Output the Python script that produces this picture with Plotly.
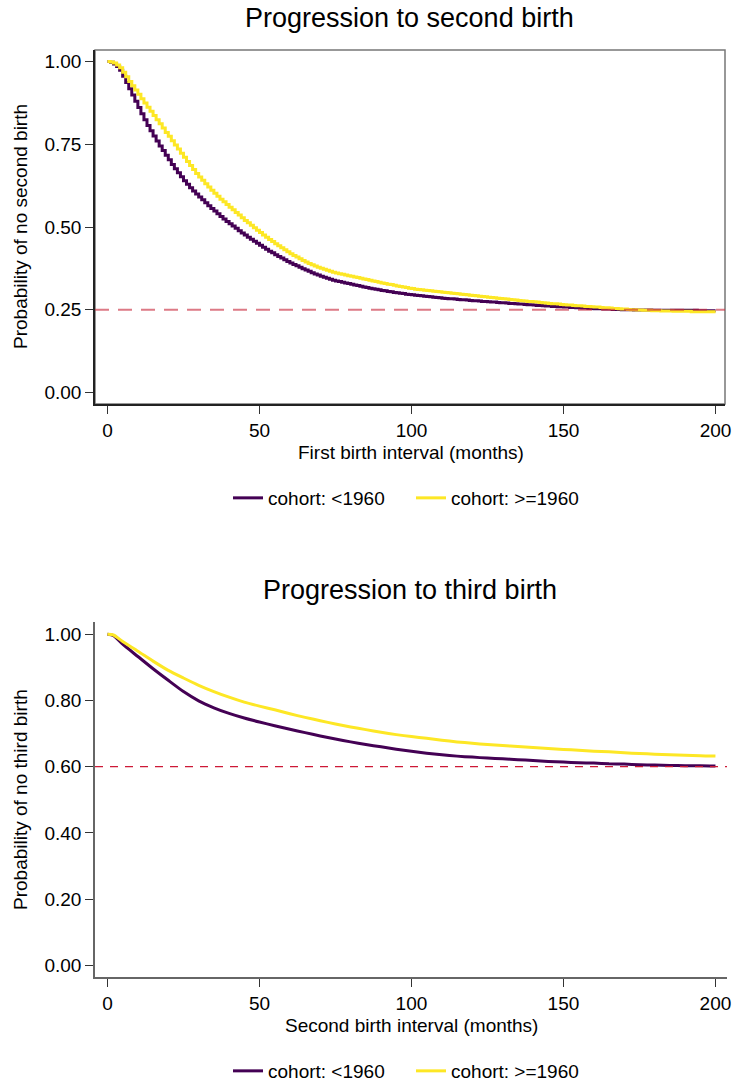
import plotly.graph_objects as go

# ---------------- data ----------------
months_second = list(range(0, 201))
second_pre1960 = [
    1.000, 0.998, 0.993, 0.985, 0.974, 0.956, 0.937, 0.918, 0.899, 0.880,
    0.861, 0.842, 0.824, 0.807, 0.791, 0.775, 0.760, 0.745, 0.731, 0.717,
    0.703, 0.689, 0.676, 0.664, 0.652, 0.640, 0.629, 0.619, 0.609, 0.600,
    0.591, 0.582, 0.573, 0.564, 0.556, 0.548, 0.540, 0.532, 0.524, 0.517,
    0.510, 0.503, 0.496, 0.489, 0.482, 0.476, 0.469, 0.463, 0.457, 0.451,
    0.445, 0.439, 0.433, 0.427, 0.422, 0.416, 0.411, 0.406, 0.401, 0.396,
    0.391, 0.387, 0.383, 0.378, 0.374, 0.370, 0.366, 0.362, 0.358, 0.355,
    0.351, 0.348, 0.345, 0.342, 0.339, 0.337, 0.335, 0.333, 0.331, 0.329,
    0.327, 0.325, 0.323, 0.321, 0.319, 0.317, 0.315, 0.313, 0.312, 0.310,
    0.308, 0.307, 0.305, 0.304, 0.302, 0.301, 0.300, 0.299, 0.297, 0.296,
    0.295, 0.294, 0.293, 0.292, 0.291, 0.290, 0.289, 0.288, 0.287, 0.286,
    0.285, 0.284, 0.283, 0.283, 0.282, 0.281, 0.280, 0.280, 0.279, 0.278,
    0.277, 0.277, 0.276, 0.275, 0.275, 0.274, 0.273, 0.273, 0.272, 0.271,
    0.271, 0.270, 0.269, 0.269, 0.268, 0.267, 0.267, 0.266, 0.265, 0.265,
    0.264, 0.263, 0.263, 0.262, 0.261, 0.261, 0.260, 0.260, 0.259, 0.259,
    0.258, 0.258, 0.257, 0.257, 0.256, 0.256, 0.255, 0.255, 0.254, 0.254,
    0.253, 0.253, 0.253, 0.252, 0.252, 0.252, 0.251, 0.251, 0.251, 0.250,
    0.250, 0.250, 0.250, 0.249, 0.249, 0.249, 0.249, 0.249, 0.249, 0.248,
    0.248, 0.248, 0.248, 0.248, 0.248, 0.248, 0.248, 0.248, 0.248, 0.248,
    0.248, 0.248, 0.248, 0.248, 0.247, 0.247, 0.247, 0.247, 0.247, 0.247,
    0.247,
]
second_post1960 = [
    1.000, 0.999, 0.996, 0.990, 0.981, 0.968, 0.954, 0.940, 0.927, 0.914,
    0.901, 0.888, 0.875, 0.862, 0.850, 0.837, 0.824, 0.812, 0.799, 0.786,
    0.774, 0.761, 0.748, 0.736, 0.723, 0.711, 0.698, 0.686, 0.674, 0.662,
    0.651, 0.641, 0.631, 0.621, 0.611, 0.602, 0.593, 0.584, 0.576, 0.568,
    0.560, 0.552, 0.544, 0.536, 0.528, 0.520, 0.513, 0.505, 0.498, 0.490,
    0.483, 0.476, 0.469, 0.462, 0.456, 0.449, 0.443, 0.437, 0.431, 0.425,
    0.419, 0.414, 0.409, 0.404, 0.399, 0.394, 0.390, 0.386, 0.382, 0.378,
    0.375, 0.372, 0.369, 0.366, 0.363, 0.361, 0.359, 0.357, 0.355, 0.353,
    0.351, 0.349, 0.347, 0.345, 0.343, 0.341, 0.339, 0.337, 0.335, 0.333,
    0.331, 0.329, 0.327, 0.326, 0.324, 0.322, 0.320, 0.319, 0.317, 0.315,
    0.314, 0.312, 0.311, 0.310, 0.309, 0.308, 0.307, 0.306, 0.305, 0.304,
    0.303, 0.302, 0.301, 0.300, 0.299, 0.298, 0.297, 0.296, 0.295, 0.294,
    0.293, 0.292, 0.291, 0.290, 0.289, 0.288, 0.287, 0.286, 0.285, 0.284,
    0.283, 0.282, 0.281, 0.280, 0.279, 0.278, 0.277, 0.276, 0.275, 0.275,
    0.274, 0.273, 0.272, 0.271, 0.270, 0.269, 0.268, 0.268, 0.267, 0.266,
    0.265, 0.264, 0.264, 0.263, 0.262, 0.262, 0.261, 0.260, 0.260, 0.259,
    0.258, 0.258, 0.257, 0.256, 0.256, 0.255, 0.254, 0.254, 0.253, 0.252,
    0.252, 0.251, 0.250, 0.250, 0.249, 0.249, 0.248, 0.248, 0.248, 0.247,
    0.247, 0.247, 0.246, 0.246, 0.246, 0.246, 0.245, 0.245, 0.245, 0.245,
    0.245, 0.245, 0.244, 0.244, 0.244, 0.244, 0.244, 0.244, 0.244, 0.244,
    0.244,
]

months_third = [0, 2, 5, 10, 15, 20, 25, 30, 35, 40, 45, 50, 55, 60, 65, 70, 75,
                80, 85, 90, 95, 100, 105, 110, 115, 120, 125, 130, 135, 140, 145,
                150, 155, 160, 165, 170, 175, 180, 185, 190, 195, 200]
third_pre1960 = [1.000, 0.996, 0.970, 0.933, 0.896, 0.861, 0.827, 0.799, 0.778,
                 0.761, 0.747, 0.735, 0.724, 0.713, 0.703, 0.693, 0.684, 0.675,
                 0.667, 0.660, 0.653, 0.647, 0.641, 0.636, 0.632, 0.629, 0.626,
                 0.624, 0.621, 0.619, 0.616, 0.614, 0.612, 0.611, 0.609, 0.608,
                 0.606, 0.605, 0.604, 0.603, 0.603, 0.602]
third_post1960 = [1.000, 0.998, 0.978, 0.949, 0.919, 0.891, 0.868, 0.846, 0.827,
                  0.810, 0.795, 0.783, 0.772, 0.760, 0.749, 0.739, 0.729, 0.720,
                  0.712, 0.704, 0.697, 0.691, 0.686, 0.680, 0.675, 0.671, 0.667,
                  0.664, 0.661, 0.658, 0.655, 0.652, 0.650, 0.647, 0.645, 0.642,
                  0.640, 0.638, 0.636, 0.635, 0.633, 0.632]

series_names = ["cohort: <1960", "cohort: >=1960"]
series_colors = ["#440154", "#FDE725"]
ref_second = 0.25
ref_third = 0.60
x_ticks = [0, 50, 100, 150, 200]
y_ticks_second = [0.00, 0.25, 0.50, 0.75, 1.00]
y_ticks_third = [0.00, 0.20, 0.40, 0.60, 0.80, 1.00]

titles = ["Progression to second birth", "Progression to third birth"]
x_titles = ["First birth interval (months)", "Second birth interval (months)"]
y_titles = ["Probability of no second birth", "Probability of no third birth"]

# ---------------- figure ----------------
FONT = "Liberation Sans, Arial, Helvetica, sans-serif"
W, H = 732, 1083

def px_x(p):
    return p / W

def px_y(p):
    return (H - p) / H

fig = go.Figure()

for name, col, ys in zip(series_names, series_colors, [second_pre1960, second_post1960]):
    fig.add_trace(go.Scatter(
        x=months_second, y=ys, mode="lines", name=name,
        line=dict(color=col, width=3, shape="hv"),
        xaxis="x", yaxis="y", legend="legend", hoverinfo="skip"))

for name, col, ys in zip(series_names, series_colors, [third_pre1960, third_post1960]):
    fig.add_trace(go.Scatter(
        x=months_third, y=ys, mode="lines", name=name,
        line=dict(color=col, width=3, shape="spline", smoothing=0.6),
        xaxis="x2", yaxis="y2", legend="legend2", hoverinfo="skip"))

tickfont = dict(family=FONT, size=19, color="#000000")

common_x = dict(tickmode="array", tickvals=x_ticks, ticks="outside", ticklen=8,
                tickwidth=1.3, tickcolor="#333333", tickfont=tickfont,
                showgrid=False, zeroline=False, showline=True, linewidth=1.5)
common_y = dict(ticks="outside", ticklen=8, tickwidth=1.3, tickcolor="#333333",
                tickfont=tickfont, tickformat=".2f", tickmode="array",
                showgrid=False, zeroline=False, showline=True, linewidth=1.5)

fig.update_layout(
    width=W, height=H,
    margin=dict(l=0, r=0, t=0, b=0, autoexpand=False),
    paper_bgcolor="white", plot_bgcolor="white",
    font=dict(family=FONT, size=19, color="#000000"),
    xaxis=dict(domain=[px_x(95), px_x(725)], range=[-4.1, 203.1], anchor="y",
               linecolor="#222222", **common_x),
    yaxis=dict(domain=[px_y(404), px_y(50)], range=[-0.035, 1.035], anchor="x",
               tickvals=y_ticks_second, linecolor="#222222", **common_y),
    xaxis2=dict(domain=[px_x(95), px_x(727)], range=[-4.1, 203.8], anchor="y2",
                linecolor="#666666", **common_x),
    yaxis2=dict(domain=[px_y(977), px_y(622)], range=[-0.0353, 1.0372], anchor="x2",
                tickvals=y_ticks_third, linecolor="#666666", **common_y),
    legend=dict(orientation="h", x=px_x(228), xanchor="left", y=px_y(498), yanchor="middle",
                font=dict(family=FONT, size=19, color="#000000"),
                entrywidth=138, entrywidthmode="pixels", bgcolor="rgba(0,0,0,0)",
                tracegroupgap=0),
    legend2=dict(orientation="h", x=px_x(228), xanchor="left", y=px_y(1071), yanchor="middle",
                 font=dict(family=FONT, size=19, color="#000000"),
                 entrywidth=138, entrywidthmode="pixels", bgcolor="rgba(0,0,0,0)",
                 tracegroupgap=0),
    showlegend=True,
)

# panel box for the top chart (gray frame)
fig.add_shape(type="rect", xref="x domain", yref="y domain", x0=0, x1=1, y0=0, y1=1,
              line=dict(color="#777777", width=1.5), layer="below")

# reference lines
fig.add_shape(type="line", xref="x domain", yref="y", x0=0, x1=1, y0=ref_second, y1=ref_second,
              line=dict(color="rgba(200,40,60,0.62)", width=2, dash="14px,9px"), layer="above")
fig.add_shape(type="line", xref="x2 domain", yref="y2", x0=0, x1=1, y0=ref_third, y1=ref_third,
              line=dict(color="rgb(205,25,55)", width=1.3, dash="8px,7px"), layer="above")

annotations = []
for title, yc in zip(titles, [18, 590]):
    annotations.append(dict(text=title, xref="paper", yref="paper", x=px_x(410), y=px_y(yc),
                            xanchor="center", yanchor="middle", showarrow=False,
                            font=dict(family=FONT, size=27, color="#000000")))
for xt, yc in zip(x_titles, [452, 1025]):
    annotations.append(dict(text=xt, xref="paper", yref="paper", x=px_x(411), y=px_y(yc),
                            xanchor="center", yanchor="middle", showarrow=False,
                            font=dict(family=FONT, size=19, color="#000000")))
for yt, yc in zip(y_titles, [227, 800]):
    annotations.append(dict(text=yt, xref="paper", yref="paper", x=px_x(20), y=px_y(yc),
                            xanchor="center", yanchor="middle", showarrow=False, textangle=-90,
                            font=dict(family=FONT, size=19, color="#000000")))
fig.update_layout(annotations=annotations)

fig.write_html(
    "out.html",
    config={"displayModeBar": False},
    post_script="document.body.style.margin='0px';document.body.style.padding='0px';",
)
